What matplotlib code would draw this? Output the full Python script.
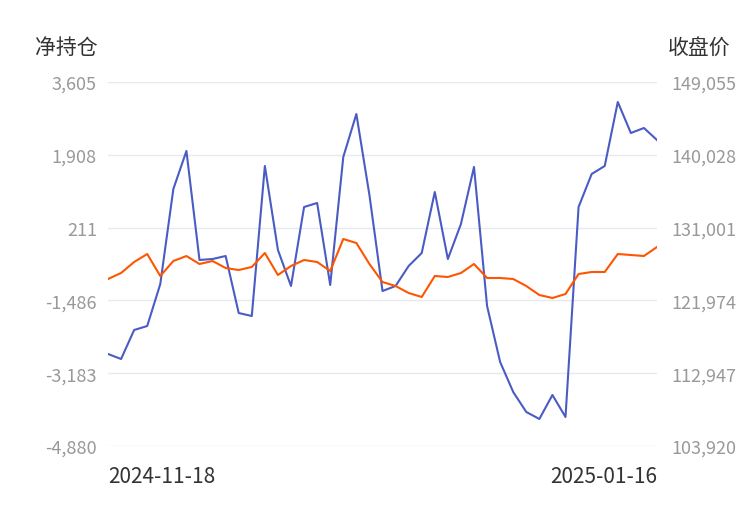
import matplotlib
matplotlib.use('Agg')
from matplotlib import pyplot as plt
import numpy as np

plt.rcParams['font.family'] = ['Noto Sans CJK SC', 'DejaVu Sans']

# 净持仓（左轴）
net_pos = [-2735, -2852, -2176, -2083, -1104, 1111, 1997, -544, -521, -451,
           -1780, -1850, 1647, -311, -1150, 691, 785, -1127, 1857, 2859,
           971, -1267, -1150, -684, -381, 1041, -521, 295, 1624, -1616,
           -2922, -3621, -4087, -4250, -3691, -4204, 691, 1460, 1647, 3139,
           2416, 2533, 2253]
# 收盘价（右轴）
close = [124627, 125371, 126735, 127727, 124999, 126859, 127479, 126487, 126859, 125991,
         125743, 126115, 127851, 125123, 126239, 126983, 126735, 125619, 129587, 129091,
         126487, 124255, 123759, 122891, 122395, 124999, 124875, 125371, 126487, 124751,
         124751, 124627, 123759, 122643, 122271, 122767, 125247, 125495, 125495, 127727,
         127603, 127479, 128595]
left_ticks = [-4880, -3183, -1486, 211, 1908, 3605]
right_ticks = [103920, 112947, 121974, 131001, 140028, 149055]
first_date, last_date = '2024-11-18', '2025-01-16'

x = np.arange(len(net_pos))
fig = plt.figure(figsize=(7.5, 5.1), dpi=100)
ax = fig.add_axes([108/750, 1-447/510, 549/750, 364/510])
ax2 = ax.twinx()

ax.plot(x, net_pos, color='#4a5cc4', lw=1.5, zorder=3)
ax2.plot(x, close, color='#ff5500', lw=1.5, zorder=3)

ax.set_ylim(left_ticks[0], left_ticks[-1])
ax.set_yticks(left_ticks)
ax.set_yticklabels([f'{v:,}' for v in left_ticks])
ax2.set_ylim(right_ticks[0], right_ticks[-1])
ax2.set_yticks(right_ticks)
ax2.set_yticklabels([f'{v:,}' for v in right_ticks])
ax.set_xlim(0, len(x)-1)
ax.set_xticks([0, len(x)-1])
ax.set_xticklabels([first_date, last_date], fontsize=15, color='#333333')
ax.get_xticklabels()[0].set_ha('left')
ax.get_xticklabels()[-1].set_ha('right')
ax.grid(axis='y', color='#e6e9f0', lw=1)
for a in (ax, ax2):
    for s in a.spines.values():
        s.set_visible(False)
    a.tick_params(length=0, labelsize=13, labelcolor='#999999')
ax.tick_params(axis='x', labelsize=15, labelcolor='#333333', pad=14)
ax.tick_params(axis='y', pad=8)
ax2.tick_params(axis='y', pad=10)

fig.text(35/750, 1-48/510, '净持仓', fontsize=15, color='#333333', va='center')
fig.text(730/750, 1-48/510, '收盘价', fontsize=15, color='#333333', va='center', ha='right')

fig.savefig('out.png')
